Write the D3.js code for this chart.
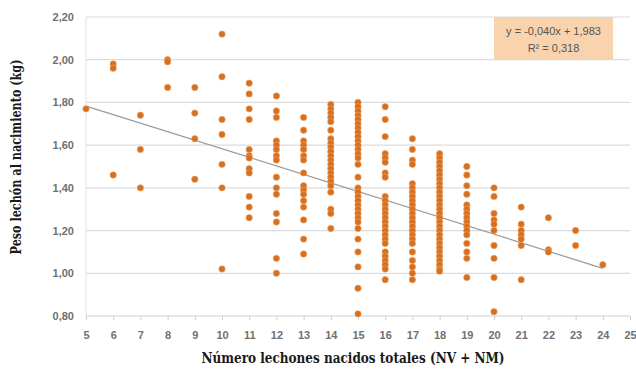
<!DOCTYPE html>
<html>
<head>
<meta charset="utf-8">
<script src="https://cdn.jsdelivr.net/npm/d3@7"></script>
<style>
    body { margin: 0; background: #fff; }
    .tick-label { font-family: 'Liberation Sans', Arial, sans-serif; font-size: 11px; font-weight: bold; fill: #707070; }
    .axis-title { font-family: 'DejaVu Serif', serif; font-size: 14px; font-weight: bold; fill: #1a1a1a; }
    .eq { font-family: 'Liberation Sans', Arial, sans-serif; font-size: 11px; fill: #555; }
</style>
</head>
<body>
<svg id="chart"></svg>
<script>
// litter size (NV + NM) on x, piglet birth weight (kg) on y
const litterSizes = [5, 6, 7, 8, 9, 10, 11, 12, 13, 14, 15, 16, 17, 18, 19, 20, 21, 22, 23, 24]
const birthWeights = [
    [1.77],
    [1.98, 1.96, 1.46],
    [1.74, 1.58, 1.40],
    [2.00, 1.99, 1.87],
    [1.87, 1.75, 1.63, 1.44],
    [2.12, 1.92, 1.72, 1.65, 1.51, 1.40, 1.02],
    [1.89, 1.84, 1.77, 1.72, 1.58, 1.55, 1.54, 1.49, 1.47, 1.36, 1.31, 1.26],
    [1.83, 1.76, 1.73, 1.62, 1.60, 1.58, 1.55, 1.53, 1.45, 1.40, 1.37, 1.28, 1.24, 1.07, 1.00],
    [1.73, 1.67, 1.62, 1.60, 1.58, 1.55, 1.53, 1.47, 1.41, 1.39, 1.37, 1.34, 1.31, 1.25, 1.16, 1.09],
    [1.79, 1.77, 1.75, 1.73, 1.71, 1.67, 1.63, 1.61, 1.59, 1.57, 1.55, 1.53, 1.51, 1.49, 1.47, 1.45, 1.43, 1.41, 1.38, 1.30, 1.28, 1.21],
    [1.80, 1.78, 1.76, 1.74, 1.72, 1.70, 1.68, 1.66, 1.64, 1.62, 1.60, 1.58, 1.56, 1.54, 1.51, 1.45, 1.40, 1.38, 1.36, 1.34, 1.32, 1.30, 1.28, 1.26, 1.24, 1.21, 1.16, 1.10, 1.03, 0.93, 0.81],
    [1.78, 1.72, 1.64, 1.56, 1.54, 1.52, 1.47, 1.45, 1.36, 1.34, 1.32, 1.30, 1.28, 1.26, 1.24, 1.22, 1.20, 1.18, 1.16, 1.14, 1.10, 1.08, 1.06, 1.04, 1.02, 0.97],
    [1.63, 1.58, 1.53, 1.51, 1.42, 1.40, 1.38, 1.36, 1.34, 1.32, 1.30, 1.28, 1.26, 1.24, 1.22, 1.20, 1.18, 1.16, 1.14, 1.10, 1.06, 1.03, 1.00, 0.97],
    [1.56, 1.54, 1.52, 1.50, 1.48, 1.46, 1.44, 1.42, 1.40, 1.38, 1.36, 1.34, 1.32, 1.30, 1.28, 1.26, 1.24, 1.22, 1.20, 1.18, 1.16, 1.14, 1.12, 1.10, 1.08, 1.06, 1.04, 1.02, 1.01],
    [1.50, 1.46, 1.41, 1.37, 1.32, 1.30, 1.28, 1.26, 1.24, 1.22, 1.20, 1.18, 1.14, 1.10, 1.07, 0.98],
    [1.40, 1.36, 1.28, 1.25, 1.23, 1.20, 1.13, 1.07, 0.98, 0.82],
    [1.31, 1.23, 1.20, 1.18, 1.16, 1.13, 0.97],
    [1.26, 1.11, 1.10],
    [1.20, 1.13],
    [1.04]
]
const xTicks = d3.range(5, 26)
const yTicks = [0.8, 1.0, 1.2, 1.4, 1.6, 1.8, 2.0, 2.2]
const trendSlope = -0.040
const trendIntercept = 1.983
const trendLabels = ['y = -0,040x + 1,983', 'R² = 0,318']

const width = 636
const height = 370
let margin = { top: 17, right: 6, bottom: 54, left: 86 }

const fmt = d3.format('.2f')
const comma = v => fmt(v).replace('.', ',')

let points = litterSizes.flatMap((n, i) => birthWeights[i].map(w => ({ n: n, w: w })))

let x = d3.scaleLinear()
    .domain([5, 25])
    .range([margin.left, width - margin.right])

let y = d3.scaleLinear()
    .domain([0.8, 2.2])
    .range([height - margin.bottom, margin.top])

let svg = d3.select('#chart')
    .attr('width', width)
    .attr('height', height)

// gridlines
svg.append('g')
    .selectAll('line')
    .data(yTicks.slice(1))
    .join('line')
    .attr('x1', x(5))
    .attr('x2', x(25))
    .attr('y1', d => y(d))
    .attr('y2', d => y(d))
    .style('stroke', '#dcdcdc')
    .style('stroke-width', 1.2)

// axes lines
svg.append('line')
    .attr('x1', x(5)).attr('x2', x(25))
    .attr('y1', y(0.8)).attr('y2', y(0.8))
    .style('stroke', '#d0d0d0')
svg.append('line')
    .attr('x1', x(5)).attr('x2', x(5))
    .attr('y1', y(0.8)).attr('y2', y(2.2))
    .style('stroke', '#e2e2e2')

let xAxis = d3.axisBottom(x)
    .tickValues(xTicks)
    .tickSize(4)
    .tickFormat(d3.format('d'))

let gx = svg.append('g')
    .attr('transform', `translate(0,${y(0.8)})`)
    .call(xAxis)
gx.select('.domain').remove()
gx.selectAll('line').style('stroke', '#d0d0d0')
gx.selectAll('text')
    .attr('class', 'tick-label')
    .attr('dy', '1.45em')

let yAxis = d3.axisLeft(y)
    .tickValues(yTicks)
    .tickSize(0)
    .tickPadding(12)
    .tickFormat(comma)

let gy = svg.append('g')
    .attr('transform', `translate(${x(5)},0)`)
    .call(yAxis)
gy.select('.domain').remove()
gy.selectAll('text').attr('class', 'tick-label')

// trend line
svg.append('line')
    .attr('x1', x(5))
    .attr('y1', y(trendSlope * 5 + trendIntercept))
    .attr('x2', x(24))
    .attr('y2', y(trendSlope * 24 + trendIntercept))
    .style('stroke', '#9a9a9a')
    .style('stroke-width', 1.2)

// points
svg.append('g')
    .selectAll('circle')
    .data(points)
    .join('circle')
    .attr('cx', d => x(d.n))
    .attr('cy', d => y(d.w))
    .attr('r', 3.2)
    .style('fill', '#d56f22')
    .style('stroke', '#f2a25e')
    .style('stroke-width', 0.6)

// equation box
let eq = svg.append('g')
    .attr('transform', `translate(${x(20.0)},${y(2.2)})`)
eq.append('rect')
    .attr('width', 119)
    .attr('height', 43)
    .style('fill', '#f9d2ae')
eq.selectAll('text')
    .data(trendLabels)
    .join('text')
    .attr('class', 'eq')
    .attr('x', 59.5)
    .attr('y', (d, i) => 18 + i * 17)
    .attr('text-anchor', 'middle')
    .text(d => d)

// axis titles
svg.append('text')
    .attr('class', 'axis-title')
    .attr('x', 353)
    .attr('y', 363)
    .attr('text-anchor', 'middle')
    .attr('textLength', 303)
    .attr('lengthAdjust', 'spacingAndGlyphs')
    .text('Número lechones nacidos totales (NV + NM)')

svg.append('text')
    .attr('class', 'axis-title')
    .attr('transform', 'translate(21,157) rotate(-90)')
    .attr('text-anchor', 'middle')
    .attr('textLength', 195)
    .attr('lengthAdjust', 'spacingAndGlyphs')
    .text('Peso lechón al nacimiento (kg)')
</script>
</body>
</html>
